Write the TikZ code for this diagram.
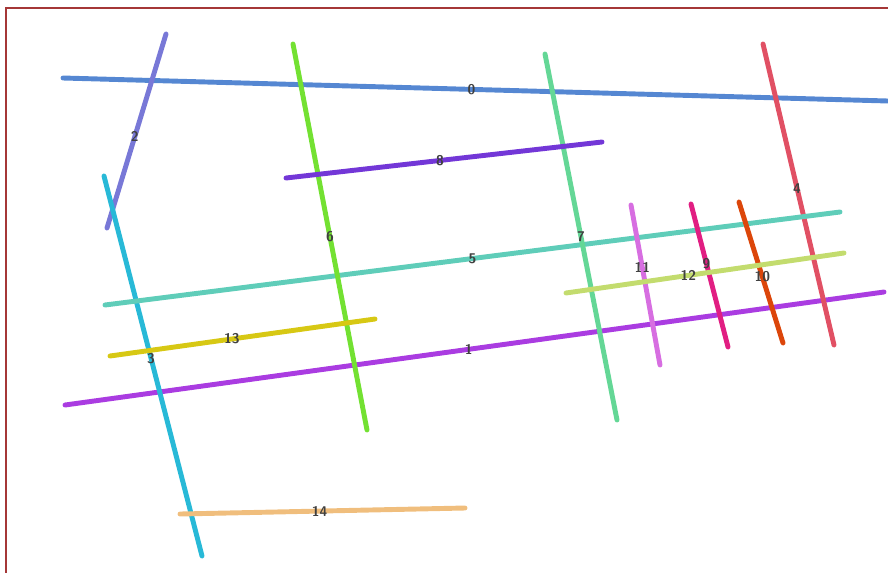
\documentclass[tikz,border=0pt]{standalone}
\usepackage{xcolor}
\usepackage{tikz}
\definecolor{frame}{RGB}{165,55,55}
\definecolor{segA}{RGB}{85,135,210}
\definecolor{segB}{RGB}{170,60,225}
\definecolor{segC}{RGB}{120,120,215}
\definecolor{segD}{RGB}{40,185,215}
\definecolor{segE}{RGB}{225,80,100}
\definecolor{segF}{RGB}{95,205,185}
\definecolor{segG}{RGB}{115,225,50}
\definecolor{segH}{RGB}{100,215,150}
\definecolor{segI}{RGB}{115,55,215}
\definecolor{segJ}{RGB}{225,30,130}
\definecolor{segK}{RGB}{220,70,10}
\definecolor{segL}{RGB}{215,110,225}
\definecolor{segM}{RGB}{195,220,110}
\definecolor{segN}{RGB}{215,200,20}
\definecolor{segO}{RGB}{240,190,125}

\begin{document}
\begin{tikzpicture}[x=0.02cm, y=-0.02cm,
  seg/.style={line width=2.8pt, line cap=round},
  lbl/.style={font=\sffamily\footnotesize\bfseries, text=black!75, inner sep=0pt}]
  \clip (0,0) rectangle (888,572);
  \draw[frame, line width=1.5pt] (6,8) rectangle (900,590);
  % segments, numbered as in the figure
  \draw[seg, segA] (63,78) -- node[lbl, pos=0.495] (l0) {0} (888,101);
  \draw[seg, segB] (65,405) -- node[lbl, pos=0.493] (l1) {1} (884,292);
  \draw[seg, segC] (166,34) -- node[lbl, pos=0.53] (l2) {2} (107,228);
  \draw[seg, segD] (104,176) -- node[lbl, pos=0.48] (l3) {3} (202,556);
  \draw[seg, segE] (763,44) -- node[lbl, pos=0.48] (l4) {4} (834,345);
  \draw[seg, segF] (105,305) -- node[lbl] (l5) {5} (840,212);
  \draw[seg, segG] (293,44) -- node[lbl] (l6) {6} (367,430);
  \draw[seg, segH] (545,54) -- node[lbl] (l7) {7} (617,420);
  \draw[seg, segI] (286,178) -- node[lbl, pos=0.487] (l8) {8} (602,142);
  \draw[seg, segJ] (691,204) -- node[lbl, pos=0.42] (l9) {9} (728,347);
  \draw[seg, segK] (739,202) -- node[lbl, pos=0.53] (l10) {10} (783,343);
  \draw[seg, segL] (631,205) -- node[lbl, pos=0.39] (l11) {11} (660,365);
  \draw[seg, segM] (566,293) -- node[lbl, pos=0.44] (l12) {12} (844,253);
  \draw[seg, segN] (110,356) -- node[lbl, pos=0.46] (l13) {13} (375,319);
  \draw[seg, segO] (180,514) -- node[lbl, pos=0.49] (l14) {14} (465,508);
\end{tikzpicture}
\end{document}
